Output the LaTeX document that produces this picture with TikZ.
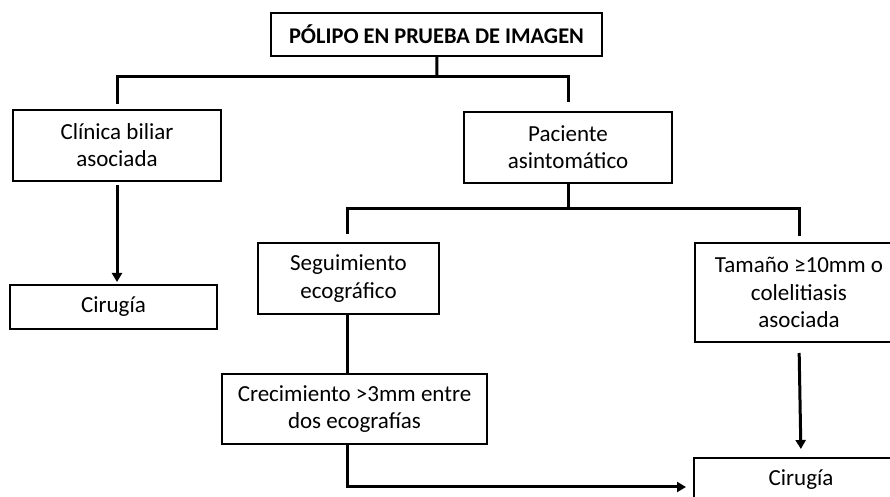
\documentclass[tikz,border=0pt]{standalone}
\usepackage{fontspec}
\setmainfont{Carlito}
\usetikzlibrary{arrows.meta}

\begin{document}
\begin{tikzpicture}[x=0.5pt,y=-0.5pt,
	box/.style={draw,line width=1pt,inner sep=0pt,align=center,font=\fontsize{11.5}{13.6}\selectfont},
	link/.style={line width=1.5pt},
	arrow/.style={line width=1.5pt,-{Triangle[length=4.5pt,width=5pt]}}]
	\useasboundingbox (0,0) rectangle (890,497);
	\clip (0,0) rectangle (890,497);
	
	\node[box,minimum width=165.5pt,minimum height=21.5pt,font=\fontsize{11.2}{13.4}\selectfont\bfseries] (top) at (436.5,34.5) {PÓLIPO EN PRUEBA DE IMAGEN};
	\node[box,minimum width=104pt,minimum height=35.5pt] (clinica) at (117,145.5) {Clínica biliar\\asociada};
	\node[box,minimum width=103.5pt,minimum height=22pt] (cir1) at (113.5,307) {Cirugía};
	\node[box,minimum width=104pt,minimum height=35.5pt] (paciente) at (568,147.5) {Paciente\\asintomático};
	\node[box,minimum width=90.5pt,minimum height=35.5pt] (seg) at (348.5,278.5) {Seguimiento\\ecográfico};
	\node[box,minimum width=132.5pt,minimum height=35pt] (crec) at (354.5,409) {Crecimiento >3mm entre\\dos ecografías};
	\node[box,minimum width=104pt,minimum height=49.5pt] (tam) at (799,292.5) {Tamaño ≥10mm o\\colelitiasis\\asociada};
	\node[box,minimum width=107pt,minimum height=22pt] (cir2) at (801,480) {Cirugía};
	
	\coordinate (j1) at (437,77);
	\coordinate (j2) at (568,209);
	\coordinate (j3) at (347,487);
	
	\draw [link] (top) -- (j1);
	\draw [link,shorten <=2.5pt,shorten >=4.5pt] (clinica.north) |- (j1) -| (paciente.north);
	\draw [arrow,shorten <=1.5pt,shorten >=1pt] (clinica.south) -- (clinica.south |- cir1.north);
	
	\draw [link] (paciente) -- (j2);
	\draw [link,shorten <=4pt,shorten >=3pt] (seg.north -| j3) |- (j2) -| (tam.north);
	\draw [link] (seg.south -| j3) -- (crec.north -| j3);
	\draw [arrow,shorten >=3.5pt] (crec.south -| j3) -- (j3) -- (j3 -| cir2.west);
	\draw [arrow,shorten <=5pt,shorten >=4pt] (tam.south) -- (cir2.north);
\end{tikzpicture}
\end{document}
